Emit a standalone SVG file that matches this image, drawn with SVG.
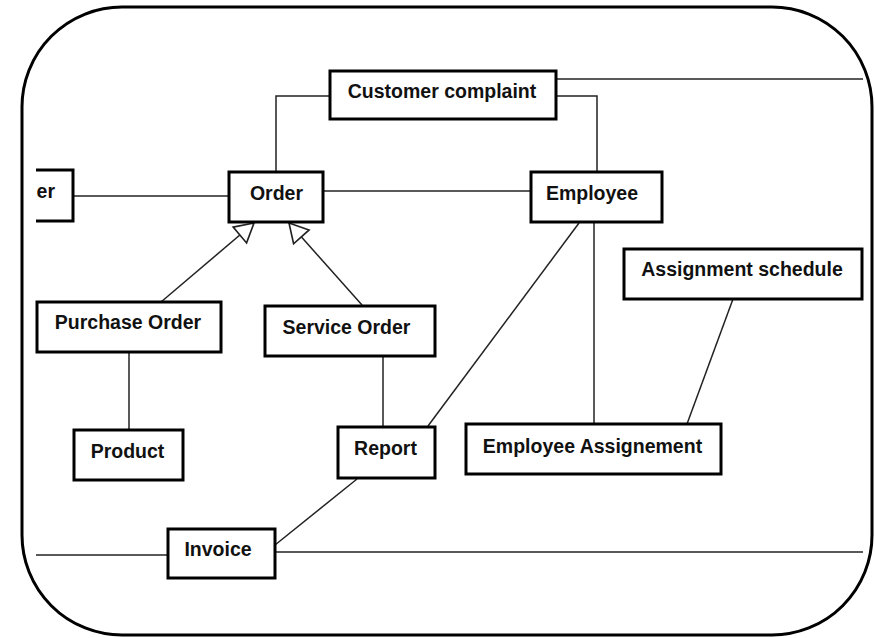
<svg xmlns="http://www.w3.org/2000/svg" width="875" height="638" viewBox="0 0 875 638">
  <defs>
    <style>
      .box { fill: #ffffff; stroke: #000000; stroke-width: 3; }
      .lbl { font-family: "Liberation Sans", Arial, sans-serif; font-weight: bold; font-size: 19.5px; fill: #111111; text-anchor: middle; }
      .link { fill: none; stroke: #222222; stroke-width: 1.5; }
    </style>
    <marker id="gen" markerUnits="userSpaceOnUse" markerWidth="24" markerHeight="24" viewBox="-19 -11 21 22" refX="0" refY="0" orient="auto">
      <path d="M0,0 L-17,-9.5 L-17,9.5 Z" fill="#ffffff" stroke="#222222" stroke-width="1.5"/>
    </marker>
    <clipPath id="view">
      <rect x="36" y="0" width="827" height="638"/>
    </clipPath>
  </defs>

  <rect x="0" y="0" width="875" height="638" fill="#ffffff"/>

  <!-- outer frame -->
  <rect x="22" y="7" width="850" height="628" rx="100" ry="100" fill="none" stroke="#000000" stroke-width="3"/>

  <g clip-path="url(#view)">
    <!-- connectors -->
    <g id="connectors">
      <path class="link" d="M556,79 H870"/>
      <path class="link" d="M330,96 H276 V171"/>
      <path class="link" d="M556,96 H597 V171"/>
      <path class="link" d="M74,196 H228"/>
      <path class="link" d="M323,191 H530"/>
      <path class="link" d="M161,302 L254,223" marker-end="url(#gen)"/>
      <path class="link" d="M362,305 L289,223" marker-end="url(#gen)"/>
      <path class="link" d="M129,352 V430"/>
      <path class="link" d="M383,357 V427"/>
      <path class="link" d="M579,223 L428,426"/>
      <path class="link" d="M594,222 V424"/>
      <path class="link" d="M733,299 L687,424"/>
      <path class="link" d="M357,479 L275,545"/>
      <path class="link" d="M20,555 H168"/>
      <path class="link" d="M275,552 H870"/>
    </g>

    <g id="customer">
      <rect class="box" x="10" y="170" width="63" height="51"/>
      <text x="55" y="198" style="font-family: 'Liberation Sans', Arial, sans-serif; font-weight: bold; font-size: 19.5px; fill: #111111; text-anchor: end;">er</text>
    </g>
  </g>

  <g id="customer-complaint">
    <rect class="box" x="330" y="71" width="226" height="48"/>
    <text class="lbl" x="442" y="98">Customer complaint</text>
  </g>

  <g id="order">
    <rect class="box" x="229" y="172" width="94" height="50"/>
    <text class="lbl" x="276.5" y="200">Order</text>
  </g>

  <g id="employee">
    <rect class="box" x="531" y="172" width="131" height="50"/>
    <text class="lbl" x="592" y="200">Employee</text>
  </g>

  <g id="assignment-schedule">
    <rect class="box" x="624" y="249" width="238" height="50"/>
    <text class="lbl" x="742" y="276">Assignment schedule</text>
  </g>

  <g id="purchase-order">
    <rect class="box" x="37" y="302" width="184" height="50"/>
    <text class="lbl" x="128" y="329">Purchase Order</text>
  </g>

  <g id="service-order">
    <rect class="box" x="265" y="306" width="170" height="50"/>
    <text class="lbl" x="346.5" y="334">Service Order</text>
  </g>

  <g id="product">
    <rect class="box" x="74" y="430" width="109" height="50"/>
    <text class="lbl" x="127.5" y="458">Product</text>
  </g>

  <g id="report">
    <rect class="box" x="338" y="427" width="97" height="51"/>
    <text class="lbl" x="385.5" y="455">Report</text>
  </g>

  <g id="employee-assignement">
    <rect class="box" x="466" y="424" width="255" height="50"/>
    <text class="lbl" x="592.5" y="453">Employee Assignement</text>
  </g>

  <g id="invoice">
    <rect class="box" x="168" y="529" width="107" height="49"/>
    <text class="lbl" x="218" y="556">Invoice</text>
  </g>
</svg>
